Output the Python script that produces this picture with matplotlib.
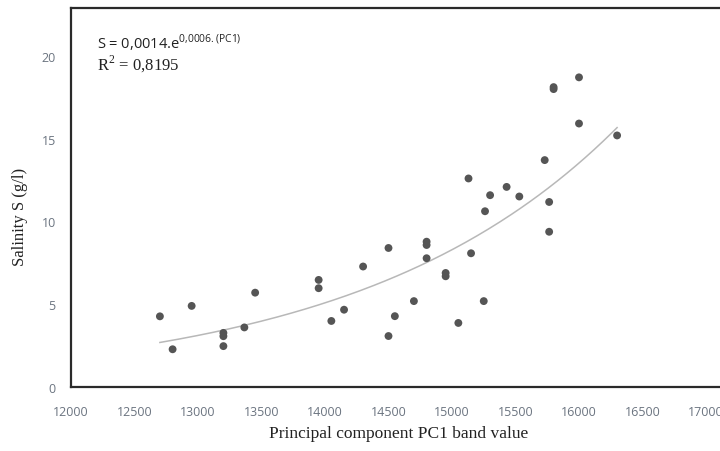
import numpy as np
import matplotlib
matplotlib.use("Agg")
import matplotlib.pyplot as plt

# PC1 band value vs measured salinity
pc1 = [12700, 12800, 12950, 13200, 13200, 13200, 13365, 13450, 13950, 13950,
       14050, 14150, 14300, 14500, 14500, 14550, 14700, 14800, 14800, 14800,
       14950, 14950, 15050, 15150, 15250, 15130, 15300, 15430, 15530, 15260,
       15730, 15765, 15765, 15800, 15800, 16000, 16000, 16300]
salinity = [4.27, 2.28, 4.90, 3.27, 3.07, 2.47, 3.60, 5.70, 6.47, 5.97,
            3.99, 4.67, 7.28, 8.40, 3.08, 4.28, 5.19, 8.78, 8.58, 7.78,
            6.89, 6.69, 3.87, 8.08, 5.19, 12.60, 11.59, 12.09, 11.51, 10.62,
            13.71, 11.18, 9.38, 18.0, 18.12, 18.71, 15.92, 15.20]

x_ticks = [12000, 12500, 13000, 13500, 14000, 14500, 15000, 15500, 16000, 16500, 17000]
y_ticks = [0, 5, 10, 15, 20]

x = np.array(pc1, dtype=float)
y = np.array(salinity, dtype=float)

# exponential trendline (least squares on log y)
b, ln_a = np.polyfit(x, np.log(y), 1)
xt = np.linspace(x.min(), x.max(), 200)
yt = np.exp(ln_a) * np.exp(b * xt)

fig = plt.figure(figsize=(7.2, 4.52), dpi=100)
ax = fig.add_axes([71 / 720, 1 - 388 / 452, 649 / 720, 379 / 452])

ax.plot(xt, yt, color="#b8b8b8", lw=1.1, zorder=2)
ax.scatter(x, y, s=32, color="#555555", edgecolors="none", zorder=3)

ax.set_xlim(12000, 12000 + 649 / 0.127)
ax.set_ylim(0, 22.9)
ax.set_xticks(x_ticks)
ax.set_yticks(y_ticks)
ax.tick_params(length=0, labelsize=9, labelcolor="#6b7480")
ax.tick_params(axis="x", pad=13)
ax.tick_params(axis="y", pad=11)
for lab in ax.get_xticklabels() + ax.get_yticklabels():
    lab.set_family("Open Sans")

for side in ["left", "bottom", "top"]:
    ax.spines[side].set_linewidth(1.6)
    ax.spines[side].set_color("#2a2a2a")
ax.spines["right"].set_visible(False)

fig.text(399 / 720, 1 - 434 / 452, "Principal component PC1 band value",
         family="Liberation Serif", fontsize=12.5, color="#222222",
         ha="center", va="center")
fig.text(20 / 720, 1 - 217 / 452, "Salinity S (g/l)", rotation=90,
         family="Liberation Serif", fontsize=12, color="#222222",
         ha="center", va="center")

fig.text(97 / 720, 1 - 43 / 452, r"S = 0,0014.e$^{\mathregular{0{,}0006.(PC1)}}$",
         family="Open Sans", fontsize=10.5, color="#222222", va="center")
fig.text(97 / 720, 1 - 64 / 452, r"R$^{\mathregular{2}}$ = 0,8195",
         family="Liberation Serif", fontsize=12, color="#222222", va="center")

fig.savefig("out.png", dpi=100)
plt.close(fig)
